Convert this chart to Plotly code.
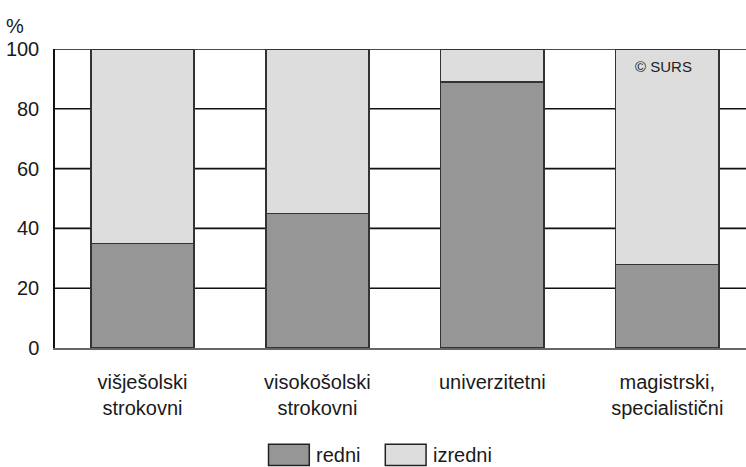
import plotly.graph_objects as go

categories = ["višješolski<br>strokovni", "visokošolski<br>strokovni",
              "univerzitetni", "magistrski,<br>specialistični"]
redni = [35, 45, 89, 28]
izredni = [65, 55, 11, 72]
y_ticks = [0, 20, 40, 60, 80, 100]

font = dict(family="Liberation Sans, Arial, sans-serif", size=20, color="#1a1a1a")
outline = dict(color="#333333", width=1.5)

fig = go.Figure()
fig.add_trace(go.Bar(x=categories, y=redni, name="redni",
                     marker=dict(color="#969696", line=outline), width=0.59))
fig.add_trace(go.Bar(x=categories, y=izredni, name="izredni",
                     marker=dict(color="#dddddd", line=outline), width=0.59))

# horizontal grid lines drawn behind the bars
for v in y_ticks[1:]:
    fig.add_shape(type="line", xref="paper", yref="y", x0=0, x1=1, y0=v, y1=v,
                  line=dict(color="#111111", width=1.6), layer="below")

# legend built by hand so the swatches are large boxes
legend_items = [("redni", "#969696", 0.309), ("izredni", "#dddddd", 0.478)]
for label, color, x0 in legend_items:
    fig.add_shape(type="rect", xref="paper", yref="paper",
                  x0=x0, x1=x0 + 0.059, y0=-0.393, y1=-0.322,
                  fillcolor=color, line=dict(color="#222222", width=1.5))
    fig.add_annotation(xref="paper", yref="paper", x=x0 + 0.066, y=-0.358,
                       text=label, showarrow=False, xanchor="left",
                       yanchor="middle", font=font)

fig.add_annotation(xref="paper", yref="paper", x=-0.058, y=1.035, text="%",
                   showarrow=False, xanchor="center", yanchor="bottom", font=font)
fig.add_annotation(x=2.98, y=94, text="© SURS", showarrow=False,
                   font=dict(family=font["family"], size=15, color="#222222"))

fig.update_layout(
    barmode="stack",
    width=746, height=467,
    margin=dict(l=55, r=0, t=49, b=119),
    plot_bgcolor="white", paper_bgcolor="white",
    font=font,
    showlegend=False,
    xaxis=dict(range=[-0.5, 3.45], showgrid=False, showline=True,
               linecolor="#666666", linewidth=1.5, ticks="", tickfont=font,
               ticklabelstandoff=15),
    yaxis=dict(range=[0, 100], tickvals=y_ticks, showgrid=False, zeroline=False,
               showline=True, linecolor="#111111", linewidth=1.5, ticks="",
               tickfont=font, ticklabelstandoff=10),
)

fig.write_html("out.html", config={"displayModeBar": False},
               post_script="document.body.style.margin='0';")
